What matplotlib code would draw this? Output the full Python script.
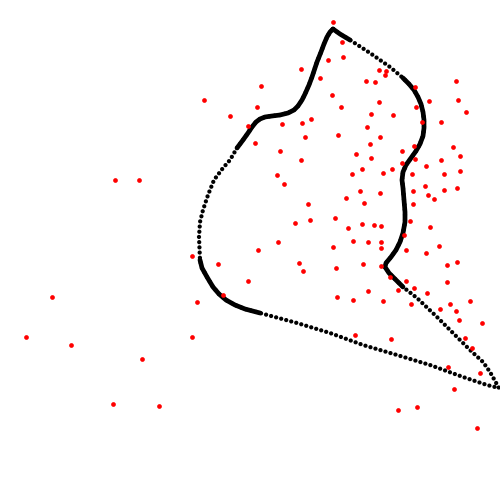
import matplotlib
matplotlib.use("Agg")
import matplotlib.pyplot as plt
import numpy as np

# red sample points (pixel-like units, y down)
pts_x = [333.3, 342.3, 343.3, 328.3, 301.3, 320.3, 261.3, 204.0, 332.3, 341.3,
         257.3, 230.3, 311.3, 302.3, 282.3, 248.3, 338.3, 305.3, 255.3, 280.3,
         301.3, 379.3, 386.3, 385.3, 366.3, 375.3, 456.3, 414.7, 429.3, 458.3,
         466.3, 379.3, 371.3, 393.3, 416.3, 441.3, 422.0, 367.3, 380.3, 370.3,
         402.3, 414.3, 453.3, 460.3, 356.3, 371.3, 415.3, 441.3, 362.3, 392.3,
         402.3, 426.3, 352.3, 383.3, 412.3, 444.3, 460.3, 425.3, 457.3, 360.3,
         380.3, 413.3, 444.3, 428.3, 346.3, 434.3, 277.3, 284.3, 308.3, 364.3,
         413.3, 295.3, 310.3, 335.3, 348.3, 362.3, 374.3, 381.3, 410.3, 430.3,
         278.3, 333.3, 353.3, 368.3, 381.3, 381.3, 403.7, 406.3, 426.3, 439.3,
         299.3, 303.3, 336.3, 363.3, 381.3, 447.3, 457.3, 390.3, 406.3, 414.3,
         398.3, 447.3, 368.3, 337.3, 353.3, 383.3, 427.3, 411.3, 440.3, 450.3,
         456.3, 470.3, 459.3, 482.3, 355.3, 391.3, 465.3, 258.3,
         115.3, 139.3, 192.3, 218.3, 248.3, 52.3, 223.3, 197.3, 26.3, 71.3,
         192.3, 142.3, 113.3, 159.3,
         472.3, 448.3, 480.3, 454.3, 398.3, 417.3, 477.3]
pts_y = [22.3, 42.3, 57.3, 60.3, 69.3, 78.3, 86.3, 100.0, 95.3, 107.3,
         107.3, 116.3, 119.3, 123.3, 124.3, 126.0, 135.3, 137.3, 143.3, 151.3,
         160.3, 70.3, 71.3, 75.3, 81.3, 82.3, 81.3, 87.0, 101.3, 100.3,
         112.3, 102.3, 114.3, 115.3, 107.3, 122.3, 122.3, 127.3, 137.3, 144.3,
         151.3, 146.3, 147.3, 156.3, 154.3, 158.3, 159.3, 160.3, 169.3, 169.3,
         163.3, 166.3, 174.3, 173.3, 174.3, 174.3, 171.3, 186.3, 188.3, 191.3,
         193.3, 191.3, 190.3, 195.3, 198.3, 199.3, 175.3, 184.3, 204.3, 203.3,
         204.3, 223.3, 220.3, 218.3, 228.3, 224.3, 225.3, 226.3, 221.3, 227.3,
         242.3, 247.3, 241.3, 242.3, 242.3, 248.3, 235.3, 250.3, 253.3, 246.3,
         263.3, 271.3, 268.3, 264.3, 266.3, 265.3, 262.3, 277.3, 281.3, 288.3,
         290.3, 282.3, 291.3, 297.3, 300.3, 301.3, 293.3, 304.3, 309.3, 304.3,
         311.3, 301.3, 320.3, 323.3, 335.3, 339.3, 338.3, 250.0,
         180.3, 180.3, 256.3, 264.3, 281.3, 297.3, 295.3, 302.3, 337.3, 345.3,
         337.3, 359.3, 404.3, 406.3,
         348.3, 367.3, 373.3, 389.3, 410.3, 407.3, 428.3]

# closed boundary curve, traced clockwise from the top peak
curve_x = [333, 340, 350, 370, 390, 403, 409, 414, 418, 421, 423, 424, 424, 423,
           420, 416, 411, 406, 403, 402, 403, 404, 405, 405, 403, 400, 396, 391,
           386, 385, 389, 396, 403, 417, 437, 457, 470, 483, 490, 499,
           487, 463, 430, 397, 363, 330, 297, 260, 245, 235, 226, 219, 213, 207,
           202, 200, 199, 200, 203, 208, 214, 223, 230, 237, 243, 248, 252, 256,
           260, 265, 272, 280, 288, 294, 298, 302, 305, 309, 312, 317, 321, 324,
           327, 330, 333]
curve_y = [29, 34, 40, 53, 67, 78, 84, 90, 97, 104, 112, 120, 128, 136,
           144, 151, 158, 165, 172, 180, 188, 200, 212, 222, 233, 242, 250, 257,
           263, 267, 273, 280, 287, 298, 317, 337, 350, 362, 372, 388,
           385, 377, 365, 355, 345, 333, 323, 313, 309, 305, 300, 294, 287, 277,
           268, 260, 237, 222, 210, 195, 180, 168, 160, 148, 140, 133, 127, 122,
           119, 117, 116, 115, 113, 110, 106, 100, 94, 85, 77, 62, 52, 44,
           37, 32, 29]

fig = plt.figure(figsize=(5, 5), dpi=100)
ax = fig.add_axes([0, 0, 1, 1])

cx = np.array(curve_x)
cy = np.array(curve_y)
ax.plot(cx, cy, color='black', lw=3.1, linestyle=(0, (0.01, 1.2)),
        dash_capstyle='round', zorder=2)
# stretches where the dots run together
for a, b in [(0, 2), (5, 32), (47, 55), (63, 84)]:
    ax.plot(cx[a:b + 1], cy[a:b + 1], color='black', lw=3.4,
            solid_capstyle='round', solid_joinstyle='round', zorder=2)

ax.plot(pts_x, pts_y, 'o', color='red', ms=3.4, mew=0, zorder=3)

ax.set_xlim(0, 500)
ax.set_ylim(500, 0)
ax.axis('off')

fig.savefig('out.png', dpi=100)
